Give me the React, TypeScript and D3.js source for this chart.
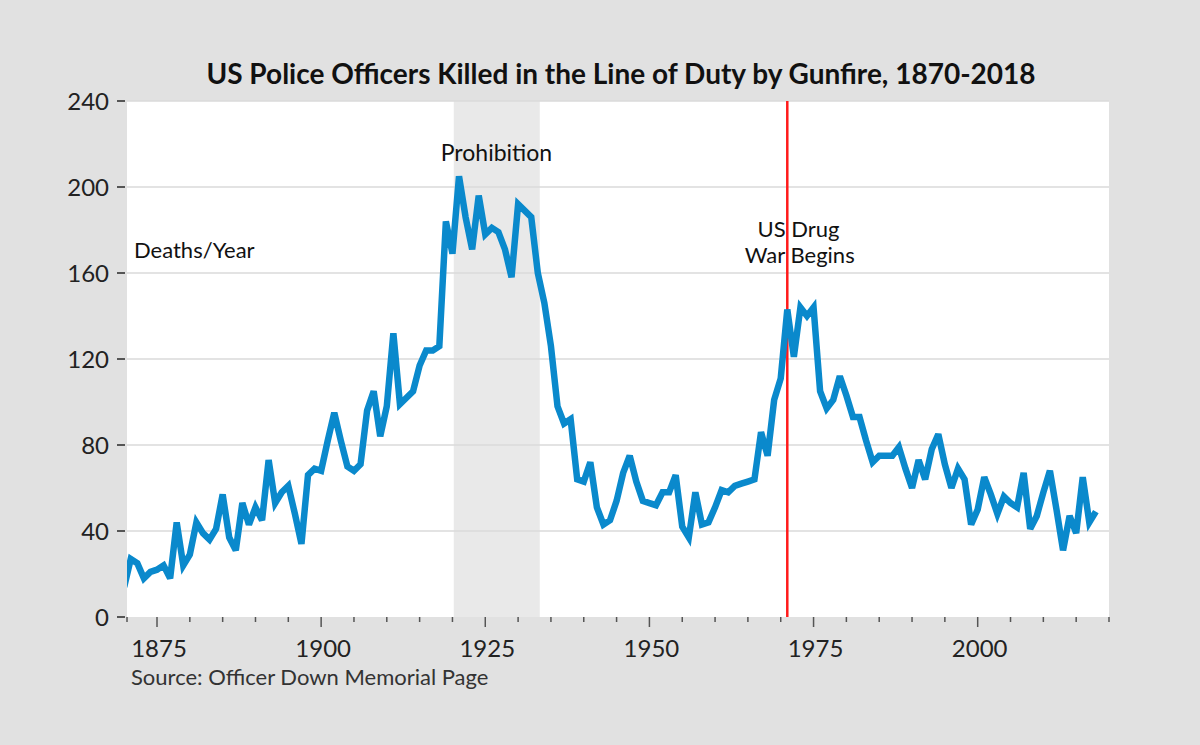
import React, { useEffect, useRef } from 'react';
import * as d3 from 'd3';

// Officers killed by gunfire per year, 1870-2018 (one value per year)
const firstYear = 1870;
const deaths: number[] = [
    14, 27, 25, 18, 21, 22, 24, 18, 44, 24,
    29, 44, 39, 36, 41, 57, 37, 31, 53, 43,
    51, 45, 73, 53, 58, 61, 48, 34, 66, 69,
    68, 82, 95, 82, 70, 68, 71, 96, 105, 84,
    98, 132, 99, 102, 105, 117, 124, 124, 126, 184,
    169, 205, 186, 171, 196, 178, 181, 179, 171, 158,
    192, 189, 186, 160, 146, 126, 98, 90, 92, 64,
    63, 72, 51, 43, 45, 54, 67, 75, 63, 54,
    53, 52, 58, 58, 66, 42, 37, 58, 43, 44,
    51, 59, 58, 61, 62, 63, 64, 86, 75, 101,
    111, 143, 121, 144, 140, 144, 105, 97, 101, 112,
    103, 93, 93, 82, 72, 75, 75, 75, 79, 69,
    60, 73, 64, 78, 85, 71, 60, 69, 64, 43,
    50, 65, 57, 48, 56, 53, 51, 67, 41, 47,
    58, 68, 50, 31, 47, 39, 65, 44, 49,
];

const yTicks = [0, 40, 80, 120, 160, 200, 240];
const xLabelYears = [1875, 1900, 1925, 1950, 1975, 2000];
const prohibition: [number, number] = [1920.2, 1933.3];
const drugWarYear = 1971;

const title = 'US Police Officers Killed in the Line of Duty by Gunfire, 1870-2018';
const source = 'Source: Officer Down Memorial Page';

interface Point {
    year: number;
    value: number;
}

const WIDTH = 1200;
const HEIGHT = 745;
const FONT = 'Lato, "Open Sans", sans-serif';

export default function App() {
    const ref = useRef<SVGSVGElement>(null);
    const margin = { top: 101, right: 91, bottom: 128, left: 127 };
    const innerW = WIDTH - margin.left - margin.right;
    const innerH = HEIGHT - margin.top - margin.bottom;

    useEffect(() => {
        drawChart();
        //eslint-disable-next-line
    }, []);

    const drawChart = () => {
        const data: Point[] = deaths.map((v, i) => ({ year: firstYear + i, value: v }));

        const x = d3.scaleLinear().domain([1870.43, 2020]).range([0, innerW]);
        const y = d3.scaleLinear().domain([0, 240]).range([innerH, 0]);

        const svg = d3.select(ref.current);
        svg.selectAll('*').remove();

        // page background
        svg.append('rect').attr('width', WIDTH).attr('height', HEIGHT).attr('fill', '#e1e1e1');

        svg.append('text')
            .attr('x', 621)
            .attr('y', 84)
            .attr('text-anchor', 'middle')
            .attr('font-family', FONT)
            .attr('font-weight', 'bold')
            .attr('font-size', 28)
            .attr('fill', '#111')
            .text(title);

        svg.append('defs').append('clipPath').attr('id', 'plot-clip')
            .append('rect').attr('width', innerW).attr('height', innerH);

        const g = svg.append('g').attr('transform', `translate(${margin.left},${margin.top})`);

        // plot area
        g.append('rect').attr('width', innerW).attr('height', innerH).attr('fill', '#ffffff');

        // Prohibition band
        g.append('rect')
            .attr('x', x(prohibition[0]))
            .attr('width', x(prohibition[1]) - x(prohibition[0]))
            .attr('y', 0)
            .attr('height', innerH)
            .attr('fill', '#e9e9e9');

        // gridlines
        g.selectAll('.grid')
            .data(yTicks.filter(t => t > 0))
            .enter().append('line')
            .attr('x1', 0)
            .attr('x2', innerW)
            .attr('y1', d => y(d))
            .attr('y2', d => y(d))
            .attr('stroke', '#dadada')
            .attr('stroke-width', 1.5);

        // y ticks + labels
        g.selectAll('.ytick')
            .data(yTicks)
            .enter().append('line')
            .attr('x1', -10)
            .attr('x2', -2)
            .attr('y1', d => y(d))
            .attr('y2', d => y(d))
            .attr('stroke', '#555')
            .attr('stroke-width', 2);

        g.selectAll('.ylabel')
            .data(yTicks)
            .enter().append('text')
            .attr('x', -18)
            .attr('y', d => y(d))
            .attr('dy', '0.36em')
            .attr('text-anchor', 'end')
            .attr('font-family', FONT)
            .attr('font-size', 24)
            .attr('fill', '#222')
            .text(d => d);

        // x axis ticks every 5 years
        const xTicks = d3.range(1875, 2021, 5);
        g.append('line')
            .attr('x1', 0).attr('x2', 0)
            .attr('y1', innerH).attr('y2', innerH + 5)
            .attr('stroke', '#555').attr('stroke-width', 1.5);
        g.selectAll('.xtick')
            .data(xTicks)
            .enter().append('line')
            .attr('x1', d => x(d))
            .attr('x2', d => x(d))
            .attr('y1', innerH)
            .attr('y2', d => innerH + (xLabelYears.includes(d) ? 10 : 5))
            .attr('stroke', '#555')
            .attr('stroke-width', 1.5);

        g.selectAll('.xlabel')
            .data(xLabelYears)
            .enter().append('text')
            .attr('x', d => x(d) + 2)
            .attr('y', innerH + 40)
            .attr('text-anchor', 'middle')
            .attr('font-family', FONT)
            .attr('font-size', 24)
            .attr('fill', '#222')
            .text(d => d);

        // annotations
        g.append('text')
            .attr('x', x(1926.7))
            .attr('y', 60)
            .attr('text-anchor', 'middle')
            .attr('font-family', FONT)
            .attr('font-size', 23)
            .attr('fill', '#111')
            .text('Prohibition');

        const drug = g.append('text')
            .attr('text-anchor', 'middle')
            .attr('font-family', FONT)
            .attr('font-size', 22)
            .attr('fill', '#111');
        drug.append('tspan').attr('x', x(1972.7)).attr('y', 136).text('US Drug');
        drug.append('tspan').attr('x', x(1972.9)).attr('y', 162).text('War Begins');

        g.append('text')
            .attr('x', 7)
            .attr('y', 157)
            .attr('font-family', FONT)
            .attr('font-size', 22)
            .attr('fill', '#111')
            .text('Deaths/Year');

        // drug war marker
        g.append('line')
            .attr('x1', x(drugWarYear))
            .attr('x2', x(drugWarYear))
            .attr('y1', 0)
            .attr('y2', innerH)
            .attr('stroke', '#ff1a1a')
            .attr('stroke-width', 2.5);

        const line = d3.line<Point>()
            .x(d => x(d.year))
            .y(d => y(d.value));

        g.append('path')
            .datum(data)
            .attr('clip-path', 'url(#plot-clip)')
            .attr('fill', 'none')
            .attr('stroke', '#0a89cc')
            .attr('stroke-width', 6.5)
            .attr('stroke-linejoin', 'miter')
            .attr('stroke-miterlimit', 3)
            .attr('d', line);

        svg.append('text')
            .attr('x', 131)
            .attr('y', 685)
            .attr('font-family', FONT)
            .attr('font-size', 22)
            .attr('fill', '#333')
            .text(source);
    };

    return (
        <svg
            ref={ref}
            width={WIDTH}
            height={HEIGHT}
            style={{ position: 'absolute', left: 0, top: 0, display: 'block' }}
        ></svg>
    );
}
